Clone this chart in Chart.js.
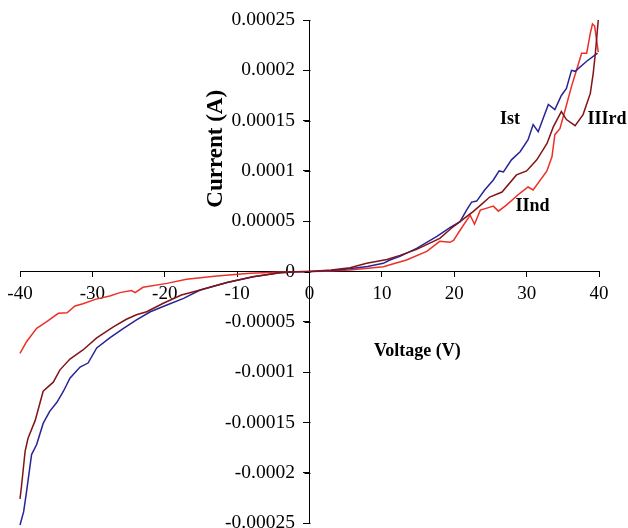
<!DOCTYPE html>
<html>
<head>
<meta charset="utf-8">
<script src="https://cdn.jsdelivr.net/npm/chart.js@4.4.0/dist/chart.umd.min.js"></script>
<style>
  body { margin: 0; background: #fff; }
  #wrap { width: 628px; height: 528px; }
</style>
</head>
<body>
<div id="wrap"><canvas id="iv" width="628" height="528"></canvas></div>
<script>
// series: voltage (V) / current (A)
const istV = [-40, -39.5, -39.1, -38.4, -37.7, -36.8, -35.9, -34.9, -34.0, -33.1, -31.7, -30.6, -29.4, -27.6, -25.7, -23.9, -22.0, -19.7, -17.4, -15.1, -11.4, -7.8, -4.1, -2, 0,
  1, 3, 5.5, 8, 10.2, 11.1, 12.5, 14.8, 17.6, 19.4, 20.8, 21.7, 22.4, 23.1, 24.2, 25.4, 26.2, 26.8, 27.9, 29.1, 30.2, 30.9, 31.6, 33.0, 33.9, 34.8, 35.5, 36.2, 36.7, 38.3, 39.8]
const istI = [-2.52e-4, -2.39e-4, -2.19e-4, -1.82e-4, -1.72e-4, -1.51e-4, -1.39e-4, -1.30e-4, -1.19e-4, -1.06e-4, -9.5e-5, -9.1e-5, -7.6e-5, -6.6e-5, -5.65e-5, -4.8e-5, -4.0e-5, -3.33e-5, -2.67e-5, -1.84e-5, -1.1e-5, -5.2e-6, -1.2e-6, -3e-7, 0,
  3e-7, 1e-6, 2.8e-6, 5e-6, 8.1e-6, 1.14e-5, 1.5e-5, 2.3e-5, 3.5e-5, 4.35e-5, 4.95e-5, 6.1e-5, 6.9e-5, 7.0e-5, 8.1e-5, 9.1e-5, 1.0e-4, 9.9e-5, 1.11e-4, 1.19e-4, 1.31e-4, 1.46e-4, 1.39e-4, 1.66e-4, 1.61e-4, 1.75e-4, 1.82e-4, 2.0e-4, 1.99e-4, 2.09e-4, 2.17e-4]

const iindV = [-40, -39.1, -37.7, -36.3, -34.7, -33.5, -32.4, -31.3, -29.6, -27.6, -26.2, -24.6, -24.1, -23.0, -19.7, -17.0, -12.8, -8.2, -3.6, 0,
  2, 5.6, 10.2, 13.4, 16.2, 18.0, 19.4, 19.9, 20.8, 22.2, 22.8, 23.6, 24.5, 25.4, 26.1, 27.2, 29.1, 30.2, 30.9, 32.8, 33.5, 33.9, 34.6, 35.3, 36.2, 37.1, 37.6, 38.3, 38.8, 39.1, 39.4, 39.9]
const iindI = [-8.13e-5, -6.98e-5, -5.65e-5, -4.99e-5, -4.16e-5, -4.1e-5, -3.43e-5, -3.2e-5, -2.77e-5, -2.43e-5, -2.1e-5, -1.9e-5, -2.1e-5, -1.57e-5, -1.18e-5, -7.8e-6, -4.5e-6, -1.8e-6, -6e-7, 0,
  3e-7, 1.5e-6, 4.8e-6, 1.14e-5, 2.0e-5, 3.0e-5, 2.9e-5, 3.1e-5, 4.1e-5, 5.6e-5, 4.7e-5, 6.1e-5, 6.3e-5, 6.5e-5, 6.0e-5, 6.6e-5, 7.8e-5, 8.4e-5, 8.1e-5, 1.0e-4, 1.14e-4, 1.36e-4, 1.42e-4, 1.6e-4, 1.84e-4, 2.05e-4, 2.17e-4, 2.17e-4, 2.37e-4, 2.46e-4, 2.44e-4, 2.18e-4]

const iiirdV = [-40, -39.8, -39.3, -38.9, -37.9, -36.8, -35.4, -34.5, -33.1, -31.3, -29.4, -27.1, -25.3, -23.9, -22.5, -20.2, -17.7, -15.1, -11.4, -7.8, -4.1, -2, 0,
  1, 3, 5.6, 7.9, 10.7, 12.5, 14.8, 18.0, 19.6, 20.8, 22.6, 23.8, 24.9, 26.6, 28.6, 30.0, 31.4, 32.8, 33.7, 34.8, 35.5, 36.7, 37.8, 38.8, 39.2, 39.5, 39.9]
const iiirdI = [-2.26e-4, -2.14e-4, -1.79e-4, -1.66e-4, -1.48e-4, -1.19e-4, -1.10e-4, -9.8e-5, -8.7e-5, -7.8e-5, -6.6e-5, -5.5e-5, -4.75e-5, -4.3e-5, -4.0e-5, -3.16e-5, -2.34e-5, -1.84e-5, -1.1e-5, -5.2e-6, -1.2e-6, -3e-7, 0,
  4e-7, 1.5e-6, 3.8e-6, 8.1e-6, 1.2e-5, 1.6e-5, 2.2e-5, 3.3e-5, 4.3e-5, 4.95e-5, 5.95e-5, 6.7e-5, 7.4e-5, 7.9e-5, 9.6e-5, 1.0e-4, 1.11e-4, 1.27e-4, 1.44e-4, 1.59e-4, 1.51e-4, 1.45e-4, 1.56e-4, 1.77e-4, 1.97e-4, 2.17e-4, 2.5e-4]

const xTicks = [-40, -30, -20, -10, 0, 10, 20, 30, 40]
const yTicks = [0.00025, 0.0002, 0.00015, 0.0001, 0.00005, 0, -0.00005, -0.0001, -0.00015, -0.0002, -0.00025]
const yTickLabels = ['0.00025', '0.0002', '0.00015', '0.0001', '0.00005', '0', '-0.00005', '-0.0001', '-0.00015', '-0.0002', '-0.00025']

const serif = "'Liberation Serif', 'Times New Roman', serif"

function pts(vs, is) {
  return vs.map((v, i) => ({x: v, y: is[i]}))
}

function noSpace(scale) {
  if (scale.isHorizontal()) scale.height = 0
  else scale.width = 0
  scale.paddingLeft = 0
  scale.paddingRight = 0
  scale.paddingTop = 0
  scale.paddingBottom = 0
}

// series names, axis titles and the y tick marks (the centred y axis doesn't draw them)
const textPlugin = {
  id: 'texts',
  afterDraw(chart) {
    const {ctx, scales: {x, y}} = chart
    ctx.save()
    const x0 = Math.round(x.getPixelForValue(0)) + 0.5
    ctx.strokeStyle = '#000'
    ctx.lineWidth = 1
    ctx.beginPath()
    y.ticks.forEach(t => {
      const py = Math.round(y.getPixelForValue(t.value)) + 0.5
      ctx.moveTo(x0 - 6, py)
      ctx.lineTo(x0, py)
    })
    ctx.stroke()

    ctx.fillStyle = '#000'
    ctx.font = 'bold 18px ' + serif
    ctx.textAlign = 'center'
    ctx.textBaseline = 'middle'
    ctx.fillText('Ist', x.getPixelForValue(27.7), y.getPixelForValue(0.000151))
    ctx.fillText('IIIrd', x.getPixelForValue(41.1), y.getPixelForValue(0.000151))
    ctx.fillText('IInd', x.getPixelForValue(30.8), y.getPixelForValue(0.000065))
    ctx.fillText('Voltage (V)', x.getPixelForValue(14.9), y.getPixelForValue(-0.000079))
    ctx.font = 'bold 23px ' + serif
    ctx.translate(x.getPixelForValue(-12.9), y.getPixelForValue(0.000122))
    ctx.rotate(-Math.PI / 2)
    ctx.fillText('Current (A)', 0, 0)
    ctx.restore()
  }
}

const ctx = document.getElementById('iv')
const myChart = new Chart(ctx, {
  type: 'scatter',
  data: {
    datasets: [
      {label: 'IIIrd', data: pts(iiirdV, iiirdI), borderColor: 'rgb(130,20,22)', order: 1},
      {label: 'Ist', data: pts(istV, istI), borderColor: 'rgb(40,36,150)', order: 2},
      {label: 'IInd', data: pts(iindV, iindI), borderColor: 'rgb(236,48,40)', order: 3}
    ].map(d => Object.assign(d, {showLine: true, pointRadius: 0, borderWidth: 1.5, tension: 0, clip: false}))
  },
  options: {
    responsive: false,
    animation: false,
    layout: {padding: {left: 20, right: 29, top: 20, bottom: 5}},
    plugins: {legend: {display: false}, tooltip: {enabled: false}},
    scales: {
      x: {
        type: 'linear',
        min: -40, max: 40,
        position: {y: 0},
        afterBuildTicks: s => { s.ticks = xTicks.map(v => ({value: v})) },
        afterFit: noSpace,
        border: {display: true, color: '#000', width: 1},
        grid: {drawOnChartArea: false, drawTicks: true, tickLength: 5, color: '#000'},
        ticks: {color: '#000', padding: 6, maxRotation: 0, font: {family: serif, size: 19}}
      },
      y: {
        type: 'linear',
        min: -0.00025, max: 0.00025,
        position: {x: 0},
        afterBuildTicks: s => { s.ticks = yTicks.map(v => ({value: v})) },
        afterFit: noSpace,
        border: {display: true, color: '#000', width: 1},
        grid: {drawOnChartArea: false, drawTicks: true, tickLength: 6, color: '#000'},
        ticks: {
          color: '#000', padding: 7, font: {family: serif, size: 19.5},
          // the library puts centred y labels right on the axis line, so pad them
          callback: (v, i) => yTickLabels[i] + '\u2002 '
        }
      }
    }
  },
  plugins: [textPlugin]
})
</script>
</body>
</html>
